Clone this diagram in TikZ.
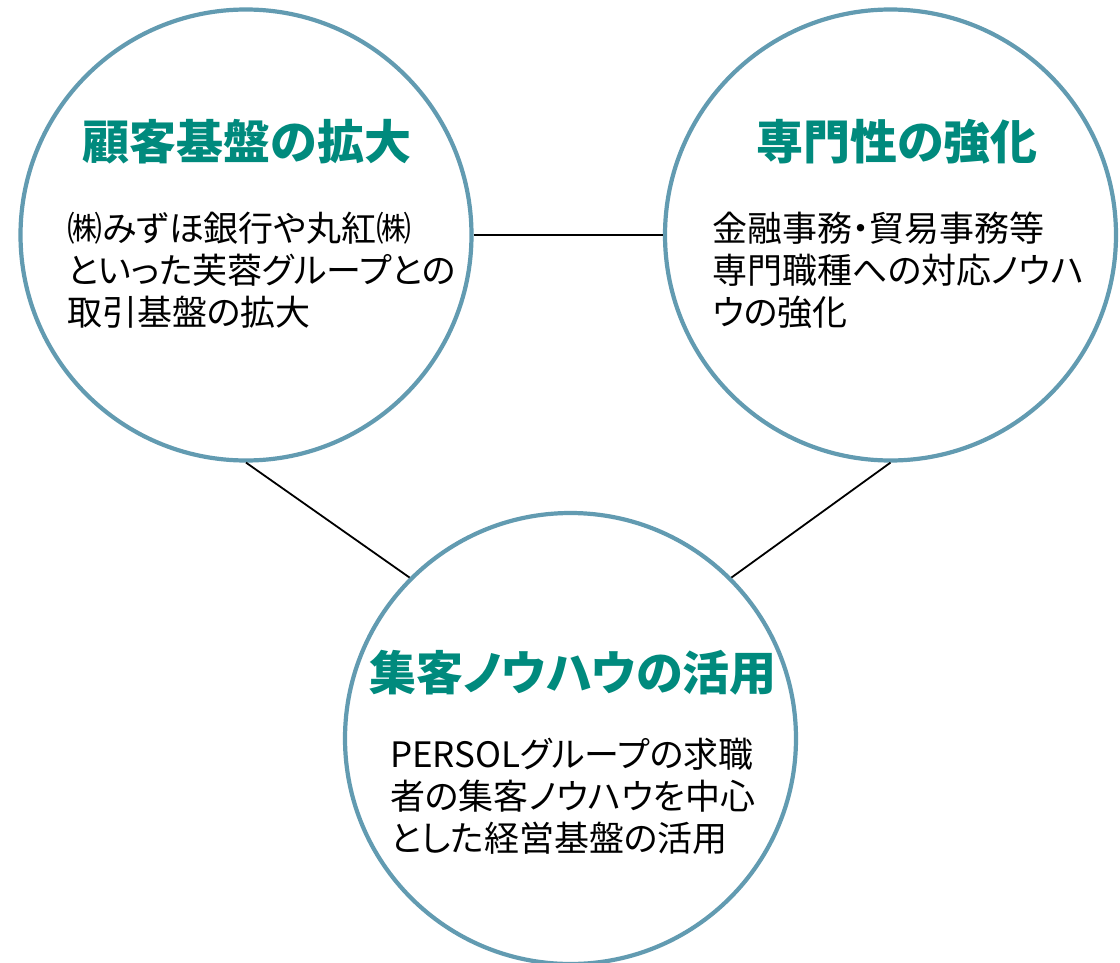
\documentclass[tikz,border=0pt]{standalone}
\usepackage{fontspec}
\newfontfamily\jp[RawFeature=+palt]{Noto Sans CJK JP}
\definecolor{ringblue}{RGB}{98,155,177}
\definecolor{titleteal}{RGB}{0,138,125}
\tikzset{
  ring/.style={circle, draw=ringblue, line width=4.2pt, fill=white, inner sep=0pt, minimum size=451pt},
  link/.style={draw=black, line width=1.8pt},
  titletext/.style={anchor=base, inner sep=0pt, text=titleteal, font=\jp\bfseries\fontsize{47}{52}\selectfont},
  bodytext/.style={anchor=base west, inner sep=0pt, text=black, font=\jp\fontsize{35}{42}\selectfont}
}
\begin{document}
\begin{tikzpicture}[x=1pt,y=-1pt]
\useasboundingbox (0,0) rectangle (1120,963);
\clip (0,0) rectangle (1120,963);
\node[ring] (L) at (246,235) {};
\node[ring] (R) at (890.5,235) {};
\node[ring] (B) at (570.5,738.5) {};
\draw[link] (L) -- (R);
\draw[link] (L.south) -- (B.135);
\draw[link] (R.south) -- (B.45);
% left
\node[titletext] (Lt) at (247,160) {顧客基盤の拡大};
\node[bodytext] (L1) at (67,241.5) {㈱みずほ銀行や丸紅㈱};
\node[bodytext] (L2) at (67,283.5) {といった芙蓉グループとの};
\node[bodytext] (L3) at (67,325.5) {取引基盤の拡大};
% right
\node[titletext] (Rt) at (897,160) {専門性の強化};
\node[bodytext] (R1) at (712,241.5) {金融事務・貿易事務等};
\node[bodytext] (R2) at (712,283.5) {専門職種への対応ノウハ};
\node[bodytext] (R3) at (712,325.5) {ウの強化};
% bottom
\node[titletext] (Bt) at (573,690) {集客ノウハウの活用};
\node[bodytext] (B1) at (390,767.5) {PERSOLグループの求職};
\node[bodytext] (B2) at (390,809.5) {者の集客ノウハウを中心};
\node[bodytext] (B3) at (390,851.5) {とした経営基盤の活用};
\end{tikzpicture}
\end{document}
